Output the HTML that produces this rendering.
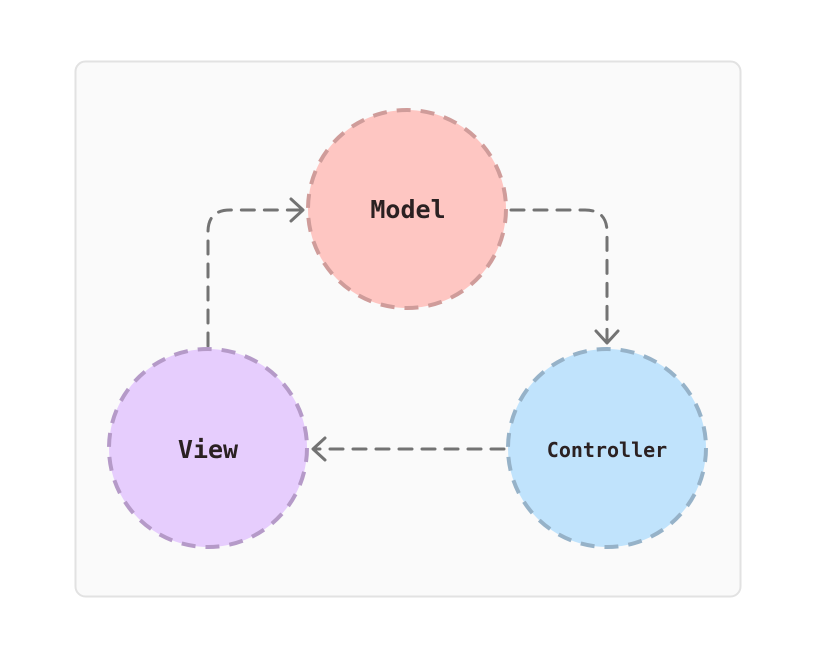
<!DOCTYPE html>
<html><head><style>
html,body{margin:0;padding:0;background:#fff;}
svg{display:block;}
text{font-family:"DejaVu Sans Mono","Liberation Mono",monospace;font-weight:bold;fill:#2b2122;}
</style></head><body>
<svg width="818" height="663" viewBox="0 0 818 663">
<rect x="75.5" y="61.5" width="665" height="535" rx="10" fill="#fafafa" stroke="#e2e2e2" stroke-width="2"/>
<g fill="none" stroke="#737373" stroke-width="3" stroke-linecap="round" stroke-dasharray="13 10">
<path d="M208 346 V232 Q208 210 230 210 H302"/>
<path d="M511 210 H585 Q607 210 607 232 V342"/>
<path d="M504 449 H314"/>
</g>
<g fill="none" stroke="#737373" stroke-width="3" stroke-linecap="round" stroke-linejoin="round">
<path d="M291 199 L303 210 L291 221"/>
<path d="M596 331 L607 343 L618 331"/>
<path d="M325 438 L313 449 L325 460"/>
</g>
<circle cx="407" cy="209" r="99" fill="#fec6c2" stroke="#cf9c9a" stroke-width="4" stroke-dasharray="14 10"/>
<circle cx="208" cy="448" r="99" fill="#e6cdfd" stroke="#b59ac8" stroke-width="4" stroke-dasharray="14 10"/>
<circle cx="607" cy="448" r="99" fill="#c0e3fc" stroke="#96b2c8" stroke-width="4" stroke-dasharray="14 10"/>
<text x="408" y="218" font-size="25" text-anchor="middle">Model</text>
<text x="208" y="458" font-size="25" text-anchor="middle">View</text>
<text x="607" y="457" font-size="20" text-anchor="middle">Controller</text>
</svg>
</body></html>
